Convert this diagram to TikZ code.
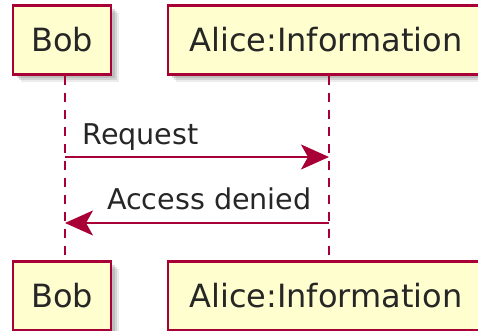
\documentclass[tikz,border=0pt]{standalone}
\usepackage{fontspec}
\setmainfont{DejaVu Sans}
\usetikzlibrary{arrows.meta,shadows}

\definecolor{umlfill}{HTML}{FEFECE}
\definecolor{umlline}{HTML}{A80036}

\begin{document}
\begin{tikzpicture}[x=0.5pt,y=-0.5pt,
  softshadow/.style={
    drop shadow={shadow xshift=4pt,shadow yshift=-4pt,opacity=0.15},
    drop shadow={shadow xshift=3pt,shadow yshift=-3pt,opacity=0.22},
    drop shadow={shadow xshift=2pt,shadow yshift=-2pt,opacity=0.28}},
  actor/.style={rectangle,draw=umlline,line width=1.1pt,fill=umlfill,
    minimum height=34.5pt,inner sep=0pt,font=\fontsize{16}{19}\selectfont,
    text=black!85,softshadow},
  life/.style={draw=umlline,line width=0.8pt,dash pattern=on 4.5pt off 4pt},
  msg/.style={draw=umlline,line width=0.8pt,-{Stealth[length=14pt,width=12.5pt,inset=3.5pt]}},
  lbl/.style={font=\fontsize{14.3}{17}\selectfont,inner sep=0pt,text=black!85}]
\useasboundingbox (0,0) rectangle (478,331);
\node [actor,minimum width=49pt] (bobtop) at (62,40) {Bob};
\node [actor,minimum width=158pt] (alicetop) at (326,40) {Alice:Information};
\node [actor,minimum width=49pt] (bobbot) at (62,296) {Bob};
\node [actor,minimum width=158pt] (alicebot) at (326,296) {Alice:Information};
\coordinate (bobline) at (65,0);
\coordinate (aliceline) at (329,0);
\coordinate (m1) at (0,157);
\coordinate (m2) at (0,223);
\draw [life] (bobline |- bobtop.south) -- (bobline |- bobbot.north);
\draw [life] (aliceline |- alicetop.south) -- (aliceline |- alicebot.north);
\draw [msg] (bobline |- m1) -- (aliceline |- m1);
\draw [msg] (aliceline |- m2) -- (bobline |- m2);
\node [lbl,anchor=base west] (req) at (82,145) {Request};
\node [lbl,anchor=base east] (deny) at (312,210) {Access denied};
\end{tikzpicture}
\end{document}
